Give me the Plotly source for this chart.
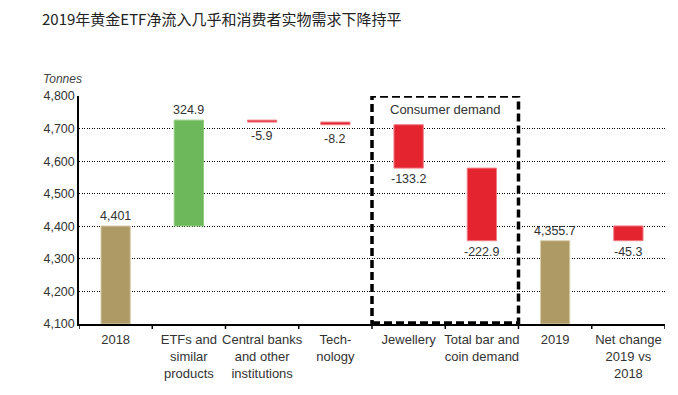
import plotly.graph_objects as go

title = "2019年黄金ETF净流入几乎和消费者实物需求下降持平"
categories = ["2018", "ETFs and<br>similar<br>products", "Central banks<br>and other<br>institutions",
              "Tech-<br>nology", "Jewellery", "Total bar and<br>coin demand", "2019",
              "Net change<br>2019 vs<br>2018"]
changes = [4401, 324.9, -5.9, -8.2, -133.2, -222.9, 4355.7, -45.3]
kinds = ["total", "delta", "delta", "delta", "delta", "delta", "total", "net"]
labels = ["4,401", "324.9", "-5.9", "-8.2", "-133.2", "-222.9", "4,355.7", "-45.3"]
y_floor = 4100
y_ticks = [4100, 4200, 4300, 4400, 4500, 4600, 4700, 4800]

TAN, GREEN, RED = "#AE9A64", "#6DB85B", "#E42530"
EDGE = {TAN: "#D9CEAE", GREEN: "#8FCB7F", RED: "#F07C84"}

bases, heights, colors = [], [], []
running = None
for v, k in zip(changes, kinds):
    if k == "total":
        bases.append(y_floor); heights.append(v - y_floor); colors.append(TAN)
        running = v
    elif k == "delta":
        start = running
        running = running + v
        bases.append(min(start, running)); heights.append(abs(v))
        colors.append(GREEN if v > 0 else RED)
    else:
        start = changes[0]
        end = start + v
        bases.append(min(start, end)); heights.append(abs(v))
        colors.append(GREEN if v > 0 else RED)

xs = list(range(len(categories)))
fig = go.Figure(go.Bar(
    x=xs, y=heights, base=bases, width=0.4,
    marker=dict(color=colors, line=dict(color=[EDGE[c] for c in colors], width=1)),
    hoverinfo="skip",
))

for i, (v, k, lab) in enumerate(zip(changes, kinds, labels)):
    top = bases[i] + heights[i]
    if k == "total" or (k == "delta" and v > 0):
        fig.add_annotation(x=i, y=top, text=lab, showarrow=False, yanchor="bottom", yshift=1,
                           font=dict(size=12.5, color="#333"))
    else:
        fig.add_annotation(x=i, y=bases[i], text=lab, showarrow=False, yanchor="top",
                           yshift=-5 if heights[i] < 20 else -2,
                           font=dict(size=12.5, color="#333"))

fig.add_shape(type="rect", xref="x", yref="y", x0=3.5, x1=5.5, y0=4103, y1=4800,
              line=dict(color="black", width=3.5, dash="8px,4px"), layer="above")
fig.add_annotation(x=4.5, y=4800, text="Consumer demand", showarrow=False, yanchor="top",
                   yshift=-4, font=dict(size=13, color="#333"))

fig.add_annotation(xref="paper", yref="paper", x=-0.065, y=1.0, text="<i>Tonnes</i>",
                   showarrow=False, xanchor="left", yanchor="bottom", yshift=8,
                   font=dict(size=12, color="#444"))

# page body has an 8px default margin; compensate so the plot lands where the reference has it
W, H, OFF = 678, 395, 8
fig.update_layout(
    width=W - OFF, height=H - OFF,
    margin=dict(l=79 - OFF, r=13, t=96 - OFF, b=71),
    paper_bgcolor="white", plot_bgcolor="white",
    font=dict(family="Liberation Sans, Arial, sans-serif", color="#333"),
    title=dict(text=title, x=(42 - OFF) / (W - OFF), xanchor="left",
               y=1 - (20 - OFF) / (H - OFF), yanchor="middle",
               font=dict(size=15, color="#222", family="Noto Sans CJK SC, sans-serif")),
    showlegend=False,
)
fig.update_xaxes(
    tickmode="array", tickvals=xs, ticktext=categories,
    range=[-0.5, len(categories) - 0.5],
    showline=True, linecolor="black", linewidth=1.5,
    showgrid=False, zeroline=False,
    ticks="", ticklabelstandoff=3, tickfont=dict(size=13, color="#333"),
)
for b in [i - 0.5 for i in range(len(categories) + 1)]:
    fig.add_shape(type="line", xref="x", yref="paper", x0=b, x1=b, y0=0, y1=-0.022,
                  line=dict(color="black", width=1.5))
fig.update_yaxes(
    range=[4100, 4800], tickvals=y_ticks, tickformat=",",
    showline=True, linecolor="black", linewidth=1.5,
    showgrid=True, gridcolor="black", gridwidth=1, griddash="1px,1.5px",
    zeroline=False, ticks="", tickfont=dict(size=12.5, color="#333"),
)
fig.write_html("out.html")
